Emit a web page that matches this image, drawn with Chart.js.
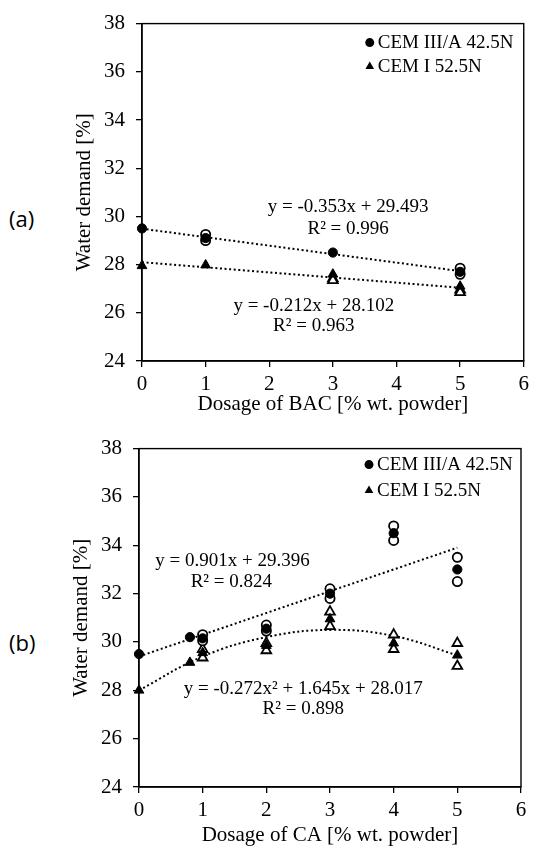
<!DOCTYPE html>
<html>
<head>
<meta charset="utf-8">
<script src="https://cdn.jsdelivr.net/npm/chart.js@4.4.1/dist/chart.umd.min.js"></script>
<style>
  body { margin: 0; background: #fff; }
  #page { position: relative; width: 534px; height: 847px; overflow: hidden; background: #fff; }
  .box { position: absolute; left: 0; width: 534px; }
  .panel { position: absolute; left: 9px; font: 22px 'Open Sans', sans-serif; line-height: 24px; color: #000; }
</style>
</head>
<body>
<div id="page">
  <div class="panel" style="top:206px">(a)</div>
  <div class="panel" style="top:630px">(b)</div>
  <div class="box" style="top:0; height:421px"><canvas id="chartA"></canvas></div>
  <div class="box" style="top:425px; height:427px"><canvas id="chartB"></canvas></div>
</div>
<script>
// (a) dosage of BAC
const bacDose = [0, 1, 3, 5];
const bacCem3 = [29.5, 29.1, 28.5, 27.7];
const bacCem3RepDose = [1, 1, 5, 5];
const bacCem3Rep = [29.25, 29.0, 27.85, 27.6];
const bacCem1 = [27.95, 27.98, 27.6, 27.1];
const bacCem1RepDose = [3, 3, 5, 5];
const bacCem1Rep = [27.42, 27.35, 26.95, 26.85];
const bacTrendDose = [0, 5];
const bacCem3Trend = [29.49, 27.73];
const bacCem1Trend = [28.10, 27.04];

// (b) dosage of CA
const caDose = [0, 0.8, 1, 2, 3, 4, 5];
const caCem3 = [29.5, 30.2, 30.15, 30.55, 32.0, 34.5, 33.0];
const caCem3RepDose = [1, 1, 2, 2, 3, 3, 4, 4, 5, 5];
const caCem3Rep = [30.3, 30.05, 30.7, 30.45, 32.2, 31.8, 34.8, 34.2, 33.5, 32.5];
const caCem1 = [28.0, 29.15, 29.55, 29.85, 30.95, 29.95, 29.45];
const caCem1RepDose = [1, 1, 2, 2, 3, 3, 4, 4, 5, 5];
const caCem1Rep = [29.7, 29.35, 29.95, 29.65, 31.25, 30.65, 30.3, 29.7, 29.95, 29.0];
const caCem3TrendDose = [0, 5];
const caCem3Trend = [29.4, 33.9];
const caCem1TrendDose = [0, 1, 2, 3, 4, 5];
const caCem1Trend = [28.0, 29.4, 30.2, 30.5, 30.25, 29.45];

const yTicks = [24, 26, 28, 30, 32, 34, 36, 38];
const xTicks = [0, 1, 2, 3, 4, 5, 6];
const seriesNames = ['CEM III/A 42.5N', 'CEM I 52.5N'];

const SERIF = "'Liberation Serif', 'Times New Roman', serif";

function pts(xs, ys) {
    return xs.map(function (x, i) { return { x: x, y: ys[i] }; });
}

function trend(xs, ys, curved) {
    return {
        data: pts(xs, ys), showLine: true, borderColor: '#000', borderWidth: 2,
        borderDash: [2, 2.6], pointRadius: 0, tension: curved ? 0.4 : 0, order: 3, clip: false
    };
}

function open(xs, ys, style) {
    return {
        data: pts(xs, ys), pointStyle: style, pointRadius: style === 'circle' ? 4.6 : 5.6,
        backgroundColor: '#fff', borderColor: '#000', borderWidth: 1.8, order: 2, clip: false
    };
}

function filled(xs, ys, style) {
    return {
        data: pts(xs, ys), pointStyle: style, pointRadius: style === 'circle' ? 4.6 : 5.6,
        backgroundColor: '#000', borderColor: '#000', borderWidth: 1, order: 1, clip: false
    };
}

// frame, equations and legend are drawn on top of the chart area
const extras = {
    id: 'extras',
    afterDraw(chart, args, opts) {
        const ctx = chart.ctx, a = chart.chartArea;
        const xs = chart.scales.x, ys = chart.scales.y;
        ctx.save();
        ctx.strokeStyle = '#000';
        ctx.lineWidth = 1.4;
        ctx.strokeRect(a.left, a.top, a.right - a.left, a.bottom - a.top);

        ctx.fillStyle = '#000';
        ctx.font = '19px ' + SERIF;
        ctx.textAlign = 'center';
        ctx.textBaseline = 'middle';
        opts.notes.forEach(function (n) {
            ctx.fillText(n.text, xs.getPixelForValue(n.x), ys.getPixelForValue(n.y));
        });

        const lg = opts.legend;
        ['circle', 'triangle'].forEach(function (style, i) {
            const mx = a.right - lg.right, my = a.top + lg.top + i * lg.gap;
            ctx.fillStyle = '#000';
            Chart.helpers.drawPoint(ctx, { pointStyle: style, radius: style === 'circle' ? 4.5 : 5, borderWidth: 0 }, mx, my);
            ctx.textAlign = 'left';
            ctx.fillText(seriesNames[i], mx + 8, my);
        });
        ctx.restore();
    }
};

function makeChart(id, datasets, xTitle, pad, notes, legend, xHeight) {
    return new Chart(document.getElementById(id), {
        type: 'scatter',
        data: { datasets: datasets },
        plugins: [extras],
        options: {
            responsive: true,
            maintainAspectRatio: false,
            animation: false,
            events: [],
            layout: { padding: pad },
            plugins: {
                legend: { display: false },
                tooltip: { enabled: false },
                extras: { notes: notes, legend: legend }
            },
            scales: {
                x: {
                    type: 'linear', min: 0, max: 6,
                    afterBuildTicks: function (s) { s.ticks = xTicks.map(function (v) { return { value: v }; }); },
                    afterFit: function (s) { s.height = xHeight; },
                    grid: { drawOnChartArea: false, drawTicks: true, tickLength: 6, color: '#000', lineWidth: 1.3 },
                    border: { color: '#000', width: 1.4 },
                    ticks: { color: '#000', padding: 5, font: { family: SERIF, size: 21 } },
                    title: { display: true, text: xTitle, color: '#000', padding: { top: 0, bottom: 4 }, font: { family: SERIF, size: 21 } }
                },
                y: {
                    min: 24, max: 38,
                    afterBuildTicks: function (s) { s.ticks = yTicks.map(function (v) { return { value: v }; }); },
                    afterFit: function (s) { s.width = 74; },
                    grid: { drawOnChartArea: false, drawTicks: true, tickLength: 6, color: '#000', lineWidth: 1.3 },
                    border: { color: '#000', width: 1.4 },
                    ticks: { color: '#000', padding: 11, font: { family: SERIF, size: 21 } },
                    title: { display: true, text: 'Water demand [%]', color: '#000', padding: { top: 4, bottom: 4 }, font: { family: SERIF, size: 21 } }
                }
            }
        }
    });
}

makeChart('chartA', [
    filled(bacDose, bacCem3, 'circle'),
    filled(bacDose, bacCem1, 'triangle'),
    open(bacCem3RepDose, bacCem3Rep, 'circle'),
    open(bacCem1RepDose, bacCem1Rep, 'triangle'),
    trend(bacTrendDose, bacCem3Trend, false),
    trend(bacTrendDose, bacCem1Trend, false)
], 'Dosage of BAC [% wt. powder]',
    { left: 68, right: 7, top: 18, bottom: 0 },
    [
        { text: 'y = -0.353x + 29.493', x: 3.24, y: 30.37 },
        { text: 'R² = 0.996', x: 3.24, y: 29.49 },
        { text: 'y = -0.212x + 28.102', x: 2.70, y: 26.29 },
        { text: 'R² = 0.963', x: 2.70, y: 25.45 }
    ],
    { right: 154, top: 19, gap: 24 }, 60);

makeChart('chartB', [
    filled(caDose, caCem3, 'circle'),
    filled(caDose, caCem1, 'triangle'),
    open(caCem3RepDose, caCem3Rep, 'circle'),
    open(caCem1RepDose, caCem1Rep, 'triangle'),
    trend(caCem3TrendDose, caCem3Trend, false),
    trend(caCem1TrendDose, caCem1Trend, true)
], 'Dosage of CA [% wt. powder]',
    { left: 65, right: 13, top: 21, bottom: 0 },
    [
        { text: 'y = 0.901x + 29.396', x: 1.47, y: 33.34 },
        { text: 'R² = 0.824', x: 1.45, y: 32.50 },
        { text: 'y = -0.272x² + 1.645x + 28.017', x: 2.58, y: 28.05 },
        { text: 'R² = 0.898', x: 2.58, y: 27.22 }
    ],
    { right: 152, top: 16, gap: 26 }, 65);
</script>
</body>
</html>
